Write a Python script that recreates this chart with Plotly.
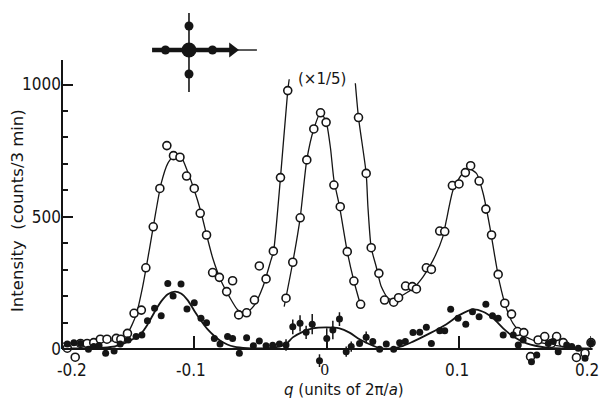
import plotly.graph_objects as go

# ---------------- data ----------------
# open circles, full scale
open_q = [-0.196, -0.190, -0.186, -0.181, -0.176, -0.171, -0.166, -0.159, -0.1555, -0.1505,
          -0.1455, -0.140, -0.1366, -0.131, -0.126, -0.1207, -0.1157, -0.1108, -0.1058, -0.100,
          -0.0955, -0.0907, -0.0861, -0.081, -0.0755, -0.071, -0.0664, -0.0604, -0.0545, -0.0508,
          -0.0457, -0.0402, -0.0348, -0.0293,
          0.0242, 0.030, 0.0338, 0.0396, 0.0439, 0.0508, 0.0545, 0.0598, 0.0649, 0.068,
          0.0755, 0.0793, 0.0856, 0.0894, 0.0952, 0.1002, 0.105, 0.109, 0.1154, 0.1205,
          0.1248, 0.1298, 0.1348, 0.1399, 0.1444, 0.1492, 0.1543, 0.160, 0.165, 0.170,
          0.174, 0.179, 0.189, 0.1955, 0.200]
open_i = [3, -31, 21, 21, 24, 37, 37, 40, 37, 59,
          135, 147, 307, 462, 607, 769, 731, 725, 654, 607,
          513, 431, 289, 271, 217, 258, 129, 137, 185, 314,
          265, 370, 648, 977,
          875, 664, 383, 286, 185, 177, 194, 238, 236, 227,
          307, 301, 446, 444, 618, 624, 667, 693, 635, 529,
          431, 282, 173, 132, 66, 62, -29, 34, 47, 21,
          47, 24, -32, -16, 24]

# open circles of the central peak, scaled x1/5
open5_q = [-0.0306, -0.0255, -0.0199, -0.0149, -0.0096, -0.0045, -0.0003, 0.0056, 0.0104,
           0.0157, 0.0207, 0.0258]
open5_i = [192, 328, 496, 715, 832, 893, 857, 620, 538, 368, 257, 169]

# filled circles with their error bars
fill_q = [-0.196, -0.191, -0.186, -0.180, -0.176, -0.172, -0.167, -0.1606, -0.156, -0.150,
          -0.144, -0.1396, -0.1354, -0.130, -0.125, -0.120, -0.116, -0.110, -0.1055, -0.100,
          -0.0949, -0.0907, -0.0848, -0.0805, -0.0748, -0.071, -0.0659, -0.0604, -0.0553, -0.0508,
          -0.0457, -0.0407, -0.0356, -0.0306, -0.0255, -0.020, -0.0154, -0.0108, -0.0053, 0.0002,
          0.0048, 0.0098, 0.0149, 0.0187, 0.025, 0.030, 0.035, 0.0402, 0.0452, 0.0508,
          0.0553, 0.0596, 0.0654, 0.0705, 0.0755, 0.0793, 0.0856, 0.0894, 0.0939, 0.0995,
          0.1053, 0.1104, 0.1154, 0.1205, 0.1255, 0.1298, 0.1336, 0.1412, 0.145, 0.1487,
          0.155, 0.159, 0.1677, 0.1715, 0.1752, 0.1816, 0.1854, 0.1904, 0.1955, 0.200]
fill_i = [19, 24, 21, -1, 9, 13, -16, -8, 19, 34,
          47, 53, 107, 154, 126, 248, 200, 246, 151, 175,
          116, 99, 40, 19, 47, 40, -16, 43, 12, 30,
          12, 14, 19, 15, 84, 97, 63, 94, -44, 40,
          72, 113, -10, 9, 21, 44, 28, -1, 19, -1,
          24, 28, 62, 63, 82, 21, 69, 69, 150, 116,
          94, 141, 122, 169, 126, 116, 53, 53, 15, 34,
          -48, -23, 21, 28, -10, 15, 9, 3, -35, 24]
fill_err = [0, 0, 0, 0, 0, 0, 0, 0, 0, 0,
            0, 0, 0, 0, 0, 0, 0, 0, 0, 0,
            0, 0, 0, 0, 0, 0, 0, 0, 0, 0,
            0, 0, 0, 22, 28, 31, 25, 38, 24, 38,
            35, 26, 19, 19, 0, 22, 0, 0, 0, 0,
            0, 0, 0, 0, 0, 0, 0, 0, 0, 0,
            0, 0, 0, 0, 0, 0, 0, 0, 0, 0,
            0, 0, 0, 0, 0, 0, 0, 0, 0, 25]

# smooth curves as drawn in the figure
curve_left_q = [-0.200, -0.180, -0.165, -0.157, -0.1505, -0.144, -0.139, -0.134, -0.129, -0.125,
                -0.120, -0.115, -0.110, -0.105, -0.100, -0.095, -0.090, -0.086, -0.080, -0.0735,
                -0.067, -0.061, -0.0545, -0.048, -0.042, -0.040, -0.0348, -0.0293, -0.0282]
curve_left_i = [22, 25, 30, 34, 59, 128, 236, 374, 520, 626,
                702, 733, 727, 670, 601, 519, 418, 343, 261, 198,
                147, 135, 166, 236, 336, 370, 648, 977, 1020]
curve_right_q = [0.0218, 0.0242, 0.030, 0.0313, 0.0338, 0.0376, 0.0414, 0.0465, 0.0515, 0.0578,
                 0.0654, 0.073, 0.0806, 0.088, 0.0907, 0.0957, 0.102, 0.108, 0.1134, 0.1184,
                 0.1235, 0.1273, 0.131, 0.136, 0.141, 0.1487, 0.159, 0.1715, 0.192, 0.200]
curve_right_i = [1005, 875, 664, 540, 383, 311, 236, 192, 185, 204,
                 229, 273, 336, 425, 488, 601, 658, 680, 664, 589,
                 462, 349, 248, 154, 97, 53, 28, 15, 3, 2]
curve5_q = [-0.032, -0.0255, -0.0199, -0.0149, -0.0096, -0.0045, -0.0003, 0.003, 0.0056, 0.0098,
            0.0157, 0.0207, 0.0258]
curve5_i = [160, 328, 496, 715, 832, 893, 860, 760, 640, 540, 368, 257, 165]
fit_q = [-0.200, -0.180, -0.170, -0.160, -0.150, -0.140, -0.135, -0.130, -0.125, -0.120,
         -0.1146, -0.110, -0.105, -0.100, -0.095, -0.090, -0.085, -0.080, -0.075, -0.070,
         -0.060, -0.050, -0.040, -0.0306, -0.0255, -0.018, -0.0104, 0.000, 0.0098, 0.0174,
         0.025, 0.0326, 0.040, 0.048, 0.058, 0.0654, 0.078, 0.0907, 0.1008, 0.1108,
         0.1184, 0.126, 0.1336, 0.1412, 0.1513, 0.1664, 0.180, 0.200]
fit_i = [2, 3, 5, 10, 28, 60, 95, 140, 180, 207,
         217, 210, 185, 145, 108, 75, 50, 30, 17, 9,
         3, 2, 5, 19, 44, 65, 78, 82, 78, 62,
         37, 18, 4, 1, 12, 28, 59, 94, 129, 150,
         141, 116, 78, 47, 21, 5, 2, 1]

# inset sketch (reciprocal lattice points, units of lattice spacing)
inset_dot_x = [-1, 1, 0, 0]
inset_dot_y = [0, 0, 1, -1]
inset_vline_x = [0, 0]
inset_vline_y = [-1.75, 1.54]
inset_hline_x = [-1.57, 1.85]
inset_thin_x = [1.85, 2.89]

xtick_vals = [-0.2, -0.1, 0, 0.1, 0.2]
xtick_text = ["-0.2", "-0.1", "0", "0.1", "0.2"]
xtick_shift = [10, -3, 0, -2, -4]
ytick_vals = [0, 500, 1000]
ytick_text = ["0", "500", "1000"]
yminor_vals = [100, 200, 300, 400, 600, 700, 800, 900]

INK = "#151515"
NARROW = "Liberation Sans Narrow, DejaVu Sans Condensed, sans-serif"
SANS = "DejaVu Sans, sans-serif"
CLEAR = "rgba(0,0,0,0)"

Y_LO, Y_HI = -75.6, 1300.6

fig = go.Figure()

# curves
for qs, vs in [(curve_left_q, curve_left_i), (curve_right_q, curve_right_i), (curve5_q, curve5_i)]:
    fig.add_trace(go.Scatter(x=qs, y=vs, mode="lines", line=dict(color=INK, width=1.3, shape="spline", smoothing=0.6),
                             hoverinfo="skip", showlegend=False))
fig.add_trace(go.Scatter(x=fit_q, y=fit_i, mode="lines", line=dict(color=INK, width=1.8, shape="spline", smoothing=0.8),
                         hoverinfo="skip", showlegend=False))

# open circles
fig.add_trace(go.Scatter(x=open_q + open5_q, y=open_i + open5_i, mode="markers", cliponaxis=False,
                         marker=dict(symbol="circle", size=8, color="white", line=dict(color=INK, width=1.6)),
                         showlegend=False))
# filled circles with error bars
fig.add_trace(go.Scatter(x=fill_q, y=fill_i, mode="markers", cliponaxis=False,
                         marker=dict(symbol="circle", size=7, color=INK, line=dict(width=0)),
                         error_y=dict(type="data", array=fill_err, visible=True, width=0, thickness=1.5, color=INK),
                         showlegend=False))

# inset
fig.add_trace(go.Scatter(x=inset_vline_x, y=inset_vline_y, mode="lines", xaxis="x2", yaxis="y2",
                         line=dict(color=INK, width=1.6), showlegend=False, hoverinfo="skip"))
fig.add_trace(go.Scatter(x=inset_hline_x, y=[0, 0], mode="lines", xaxis="x2", yaxis="y2",
                         line=dict(color=INK, width=4.5), showlegend=False, hoverinfo="skip"))
fig.add_trace(go.Scatter(x=inset_thin_x, y=[0, 0], mode="lines", xaxis="x2", yaxis="y2",
                         line=dict(color=INK, width=1.4), showlegend=False, hoverinfo="skip"))
fig.add_trace(go.Scatter(x=[inset_hline_x[1]], y=[0], mode="markers", xaxis="x2", yaxis="y2",
                         marker=dict(symbol="triangle-right", size=13, color=INK), showlegend=False, hoverinfo="skip"))
fig.add_trace(go.Scatter(x=inset_dot_x, y=inset_dot_y, mode="markers", xaxis="x2", yaxis="y2",
                         marker=dict(size=9, color=INK), showlegend=False, hoverinfo="skip"))
fig.add_trace(go.Scatter(x=[0], y=[0], mode="markers", xaxis="x2", yaxis="y2",
                         marker=dict(size=15, color=INK), showlegend=False, hoverinfo="skip"))

zero_frac = (0 - Y_LO) / (Y_HI - Y_LO)

fig.update_layout(
    width=600, height=399,
    margin=dict(l=62, r=9, t=5, b=30),
    paper_bgcolor="white", plot_bgcolor="white",
    showlegend=False,
    xaxis=dict(range=[-0.2, 0.2], anchor="free", position=zero_frac,
               showline=True, linecolor=INK, linewidth=2,
               showgrid=False, zeroline=False,
               tickmode="array", tickvals=xtick_vals, showticklabels=False,
               ticks="inside", ticklen=12, tickwidth=1.5, tickcolor=INK),
    yaxis=dict(range=[Y_LO, Y_HI], showline=False, showgrid=False, zeroline=False,
               tickmode="array", tickvals=ytick_vals, ticktext=ytick_text,
               ticks="inside", ticklen=11, tickwidth=1.6, tickcolor=INK,
               tickfont=dict(family=NARROW, size=17, color=INK),
               minor=dict(tickmode="array", tickvals=yminor_vals, ticks="inside",
                          ticklen=6, tickwidth=1.5, tickcolor=INK)),
    xaxis2=dict(domain=[0.1474, 0.3932], range=[-2.085, 3.447], anchor="y2", visible=False),
    yaxis2=dict(domain=[0.7527, 0.9863], range=[-1.875, 1.667], anchor="x2", visible=False),
)

# axis lines
fig.add_shape(type="line", xref="paper", yref="y", x0=0, x1=0, y0=0, y1=1093,
              line=dict(color=INK, width=2))
fig.add_shape(type="line", xref="paper", yref="y", x0=0, x1=1.003, y0=0, y1=0,
              line=dict(color=INK, width=2))

fig.add_annotation(text="Intensity  (counts/3 min)", xref="paper", yref="paper",
                   x=(17 - 62) / 529, y=(369 - 211) / 364, textangle=-90, showarrow=False,
                   bgcolor=CLEAR, font=dict(family=SANS, size=16.5, color=INK),
                   xanchor="center", yanchor="middle")
fig.add_annotation(text="(\u00d71/5)", xref="paper", yref="paper",
                   x=(322 - 62) / 529, y=(369 - 79) / 364, showarrow=False,
                   bgcolor=CLEAR, font=dict(family=SANS, size=15, color=INK),
                   xanchor="center", yanchor="middle")

# x tick labels; the centre one ("0") shares a block with the axis title just below it
zero_label = xtick_text[xtick_vals.index(0)]
for v, t, s in zip(xtick_vals, xtick_text, xtick_shift):
    if v == 0:
        continue
    fig.add_annotation(text=t, xref="x", yref="paper", x=v, y=(369 - 370) / 364, xshift=s,
                       showarrow=False, xanchor="center", yanchor="middle", bgcolor=CLEAR,
                       font=dict(family=NARROW, size=17, color=INK))
fig.add_annotation(
    text=('<span style="font-family:Liberation Sans Narrow;font-size:17px">' + zero_label + '</span>'
          + "\u00a0" * 8 + "<br><i>q</i> (units of 2\u03c0/<i>a</i>)"),
    xref="paper", yref="paper", x=(344 - 62) / 529, y=(369 - 380) / 364, showarrow=False,
    bgcolor=CLEAR, font=dict(family=SANS, size=15, color=INK), xanchor="center", yanchor="middle")

fig.write_html("out.html")
